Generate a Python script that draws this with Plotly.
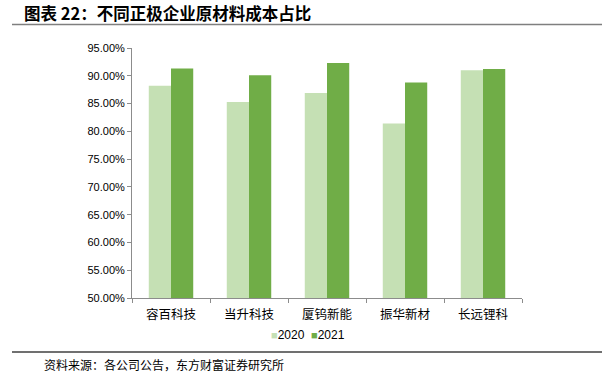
import plotly.graph_objects as go

categories = ["容百科技", "当升科技", "厦钨新能", "振华新材", "长远锂科"]
series_names = ["2020", "2021"]
values_2020 = [0.882, 0.853, 0.869, 0.814, 0.910]
values_2021 = [0.913, 0.901, 0.923, 0.888, 0.912]
colors = ["#C5E0B4", "#70AD47"]

title_text = "图表 22：不同正极企业原材料成本占比"
source_text = "资料来源：各公司公告，东方财富证券研究所"

W, H = 607, 377
L, R, T, B = 132, 85, 48, 79
pw, ph = W - L - R, H - T - B

def px(x):
    return (x - L) / pw

def py(y):
    return (H - B - y) / ph

fig = go.Figure()
for name, vals, c in zip(series_names, [values_2020, values_2021], colors):
    fig.add_trace(go.Bar(x=categories, y=vals, name=name, marker=dict(color=c, line=dict(width=0))))

cjk = "Noto Sans CJK SC"
fig.update_layout(
    width=W, height=H,
    margin=dict(l=L, r=R, t=T, b=B, autoexpand=False),
    paper_bgcolor="white", plot_bgcolor="white",
    barmode="group", bargap=0.43, bargroupgap=0,
    font=dict(family=cjk, color="#000000"),
    showlegend=False,
    xaxis=dict(showline=True, linecolor="#8c8c8c", linewidth=1, ticks="outside", ticklen=4,
               tickcolor="#8c8c8c", tickson="boundaries", tickfont=dict(family=cjk, size=12.5),
               ticklabelstandoff=5, showgrid=False),
    yaxis=dict(range=[0.5, 0.95], dtick=0.05, tickformat=".2%", showline=True, linecolor="#8c8c8c",
               linewidth=1, ticks="outside", ticklen=4, tickcolor="#8c8c8c", showgrid=False,
               zeroline=False, tickfont=dict(family="Liberation Sans, Arial", size=11)),
)

# compact legend (coloured squares + series names)
legend_html = "&nbsp;&nbsp;".join(
    f"<span style='color:{c};font-size:11px'>■</span>{n}" for n, c in zip(series_names, colors)
)
fig.add_annotation(text=legend_html, xref="paper", yref="paper",
                   x=px(308), y=py(335), xanchor="center", yanchor="middle", showarrow=False,
                   font=dict(family="Liberation Sans, Arial", size=12, color="#000000"))

fig.add_annotation(text="<b>" + title_text + "</b>", xref="paper", yref="paper",
                   x=px(22), y=py(13), xanchor="left", yanchor="middle", showarrow=False,
                   font=dict(family=cjk, size=16.5, color="#000000"))
fig.add_annotation(text=source_text, xref="paper", yref="paper",
                   x=px(42), y=py(364), xanchor="left", yanchor="middle", showarrow=False,
                   font=dict(family=cjk, size=12, color="#000000"))
fig.add_shape(type="line", xref="paper", yref="paper", x0=px(12), x1=px(602), y0=py(24.5), y1=py(24.5),
              line=dict(color="#7f7f7f", width=1.5))
fig.add_shape(type="line", xref="paper", yref="paper", x0=px(12), x1=px(602), y0=py(352), y1=py(352),
              line=dict(color="#404040", width=1.5))

fig.write_html("out.html", config={"displayModeBar": False},
               post_script="document.body.style.margin='0';document.body.style.overflow='hidden';")
